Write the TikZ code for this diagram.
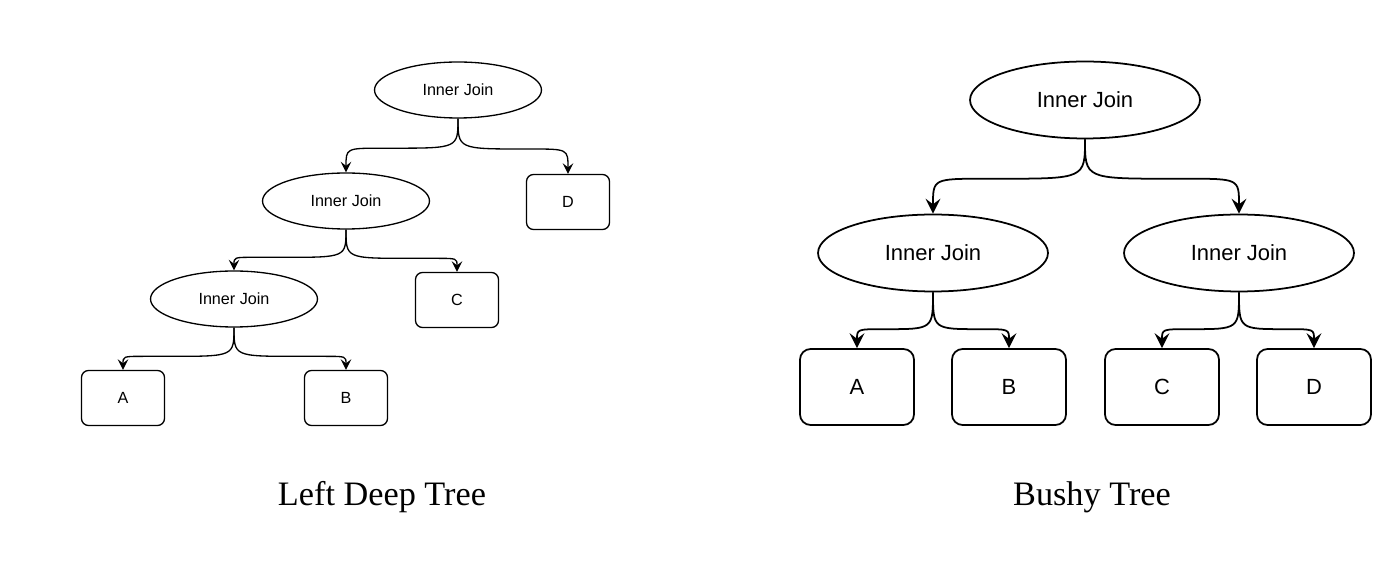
\documentclass[tikz,border=0pt]{standalone}
\usepackage{fontspec}
\setmainfont{Liberation Serif}
\newfontfamily\arialf{Liberation Sans}
\usetikzlibrary{shapes.geometric,arrows.meta,calc}
\tikzset{
  lell/.style={ellipse,draw,line width=0.75pt,minimum width=3.34cm,minimum height=1.12cm,inner sep=0pt,font=\arialf\fontsize{9.2}{11}\selectfont},
  lbox/.style={rectangle,rounded corners=4pt,draw,line width=0.75pt,minimum width=1.66cm,minimum height=1.1cm,inner sep=0pt,font=\arialf\fontsize{9.2}{11}\selectfont},
  rell/.style={ellipse,draw,line width=1pt,minimum width=4.6cm,minimum height=1.54cm,inner sep=0pt,font=\arialf\fontsize{12.5}{15}\selectfont},
  rbox/.style={rectangle,rounded corners=6pt,draw,line width=1pt,minimum width=2.28cm,minimum height=1.52cm,inner sep=0pt,font=\arialf\fontsize{12.5}{15}\selectfont},
  lconn/.style={line width=0.75pt,-{Stealth[length=6pt,width=6pt,inset=2.3pt]}},
  rconn/.style={line width=1pt,-{Stealth[length=8.5pt,width=8.5pt,inset=3.2pt]}},
  caption/.style={font=\fontsize{19.5}{23}\selectfont}
}
\newcommand\conn[4]{%
  \draw[#4] let \p1=(#1.south), \p2=(#2.north), \n1={sign(\x2-\x1)}, \n5={abs(\x2-\x1)},
     \n2={\y1+(\y2-\y1)*#3}, \n3={min(2.2*(\y1-\n2),0.62*\n5)}, \n4={min(1.5*(\n2-\y2),0.35*\n5)} in
   (\p1) .. controls (\x1,\n2) .. ({\x1+\n1*\n3},\n2) -- ({\x2-\n1*\n4},\n2) .. controls (\x2,\n2) .. (\p2);}
\begin{document}
\begin{tikzpicture}[x=0.02cm,y=-0.02cm]
\useasboundingbox[fill=white] (0,0) rectangle (1400,563);
% Left deep tree
\node[lell] (l1) at (458,90) {Inner Join};
\node[lell] (l2) at (346,201) {Inner Join};
\node[lell] (l3) at (234,299) {Inner Join};
\node[lbox] (lD) at (568,202) {D};
\node[lbox] (lC) at (457,300) {C};
\node[lbox] (lA) at (123,398) {A};
\node[lbox] (lB) at (346,398) {B};
\conn{l1}{l2}{0.55}{lconn}
\conn{l1}{lD}{0.55}{lconn}
\conn{l2}{l3}{0.68}{lconn}
\conn{l2}{lC}{0.68}{lconn}
\conn{l3}{lA}{0.68}{lconn}
\conn{l3}{lB}{0.68}{lconn}
\node[caption] (cap1) at (382,497) {Left Deep Tree};
% Bushy tree
\node[rell] (r1) at (1085,100) {Inner Join};
\node[rell] (r2) at (933,253) {Inner Join};
\node[rell] (r3) at (1239,253) {Inner Join};
\node[rbox] (rA) at (857,387) {A};
\node[rbox] (rB) at (1009,387) {B};
\node[rbox] (rC) at (1162,387) {C};
\node[rbox] (rD) at (1314,387) {D};
\conn{r1}{r2}{0.53}{rconn}
\conn{r1}{r3}{0.53}{rconn}
\conn{r2}{rA}{0.66}{rconn}
\conn{r2}{rB}{0.66}{rconn}
\conn{r3}{rC}{0.66}{rconn}
\conn{r3}{rD}{0.66}{rconn}
\node[caption] (cap2) at (1092,497) {Bushy Tree};
\end{tikzpicture}
\end{document}
